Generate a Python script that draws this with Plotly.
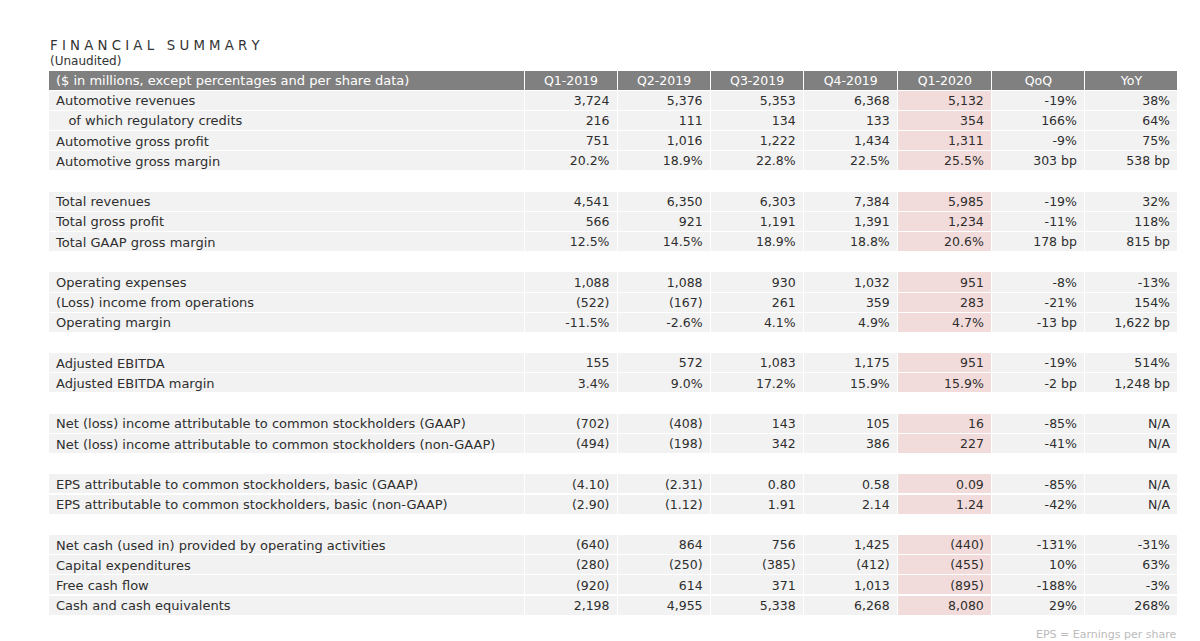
import plotly.graph_objects as go

# Datos de la tabla (grupos separados por filas vacias)
header = ['($ in millions, except percentages and per share data)',
          'Q1-2019', 'Q2-2019', 'Q3-2019', 'Q4-2019', 'Q1-2020', 'QoQ', 'YoY']

labels = [
    'Automotive revenues', '   of which regulatory credits', 'Automotive gross profit',
    'Automotive gross margin', '',
    'Total revenues', 'Total gross profit', 'Total GAAP gross margin', '',
    'Operating expenses', '(Loss) income from operations', 'Operating margin', '',
    'Adjusted EBITDA', 'Adjusted EBITDA margin', '',
    'Net (loss) income attributable to common stockholders (GAAP)',
    'Net (loss) income attributable to common stockholders (non-GAAP)', '',
    'EPS attributable to common stockholders, basic (GAAP)',
    'EPS attributable to common stockholders, basic (non-GAAP)', '',
    'Net cash (used in) provided by operating activities', 'Capital expenditures',
    'Free cash flow', 'Cash and cash equivalents',
]

q1_2019 = ['3,724', '216', '751', '20.2%', '', '4,541', '566', '12.5%', '',
           '1,088', '(522)', '-11.5%', '', '155', '3.4%', '', '(702)', '(494)', '',
           '(4.10)', '(2.90)', '', '(640)', '(280)', '(920)', '2,198']
q2_2019 = ['5,376', '111', '1,016', '18.9%', '', '6,350', '921', '14.5%', '',
           '1,088', '(167)', '-2.6%', '', '572', '9.0%', '', '(408)', '(198)', '',
           '(2.31)', '(1.12)', '', '864', '(250)', '614', '4,955']
q3_2019 = ['5,353', '134', '1,222', '22.8%', '', '6,303', '1,191', '18.9%', '',
           '930', '261', '4.1%', '', '1,083', '17.2%', '', '143', '342', '',
           '0.80', '1.91', '', '756', '(385)', '371', '5,338']
q4_2019 = ['6,368', '133', '1,434', '22.5%', '', '7,384', '1,391', '18.8%', '',
           '1,032', '359', '4.9%', '', '1,175', '15.9%', '', '105', '386', '',
           '0.58', '2.14', '', '1,425', '(412)', '1,013', '6,268']
q1_2020 = ['5,132', '354', '1,311', '25.5%', '', '5,985', '1,234', '20.6%', '',
           '951', '283', '4.7%', '', '951', '15.9%', '', '16', '227', '',
           '0.09', '1.24', '', '(440)', '(455)', '(895)', '8,080']
qoq = ['-19%', '166%', '-9%', '303 bp', '', '-19%', '-11%', '178 bp', '',
       '-8%', '-21%', '-13 bp', '', '-19%', '-2 bp', '', '-85%', '-41%', '',
       '-85%', '-42%', '', '-131%', '10%', '-188%', '29%']
yoy = ['38%', '64%', '75%', '538 bp', '', '32%', '118%', '815 bp', '',
       '-13%', '154%', '1,622 bp', '', '514%', '1,248 bp', '', 'N/A', 'N/A', '',
       'N/A', 'N/A', '', '-31%', '63%', '-3%', '268%']

# espacios no separables: sangria de "of which" y evitar saltos de linea
labels = [l.replace(' ', '\u00a0') for l in labels]
columns = [labels, q1_2019, q2_2019, q3_2019, q4_2019, q1_2020, qoq, yoy]

GRIS = '#f2f2f2'
ROSA = '#f2dcdb'
spacer = [l == '' for l in labels]

fills = []
for i in range(len(columns)):
    base = ROSA if i == 5 else GRIS
    fills.append(['white' if s else base for s in spacer])

FONT = 'DejaVu Sans'

fig = go.Figure(go.Table(
    domain=dict(x=[48 / 1200, 1178 / 1200], y=[0, 1 - 70 / 641]),
    columnwidth=[476, 93, 93, 93, 94, 94, 93, 93],
    header=dict(
        values=header,
        fill_color='#808080',
        line=dict(color='white', width=1),
        font=dict(family=FONT, size=[13] + [12.5] * 7, color='white'),
        align=['left'] + ['center'] * 7,
        height=20,
    ),
    cells=dict(
        values=columns,
        fill_color=fills,
        line=dict(color='white', width=1),
        font=dict(family=FONT, size=[13] + [12.5] * 7, color='#2e2e2e'),
        align=['left'] + ['right'] * 7,
        height=20.2,
    ),
))

fig.add_annotation(x=48 / 1200, y=1 - 45 / 641, xref='paper', yref='paper',
                   text='F I N A N C I A L   S U M M A R Y', showarrow=False,
                   xanchor='left', yanchor='middle',
                   font=dict(family=FONT, size=13.3, color='#333333'))
fig.add_annotation(x=48 / 1200, y=1 - 61 / 641, xref='paper', yref='paper',
                   text='(Unaudited)', showarrow=False,
                   xanchor='left', yanchor='middle',
                   font=dict(family=FONT, size=12, color='#333333'))
fig.add_annotation(x=1178 / 1200, y=1 - 634 / 641, xref='paper', yref='paper',
                   text='EPS = Earnings per share', showarrow=False,
                   xanchor='right', yanchor='middle',
                   font=dict(family=FONT, size=11, color='#bbbbbb'))

fig.update_layout(
    width=1200, height=641,
    margin=dict(l=0, r=0, t=0, b=0),
    paper_bgcolor='white',
)

# quitar el margen del body y subir un poco el texto de las celdas
js = """
document.body.style.margin = '0px';
document.querySelectorAll('.cell-text').forEach(function (t) {
    t.setAttribute('transform', (t.getAttribute('transform') || '') + ' translate(0,-2.5)');
});
"""
fig.write_html('out.html', config={'displayModeBar': False}, post_script=js)
